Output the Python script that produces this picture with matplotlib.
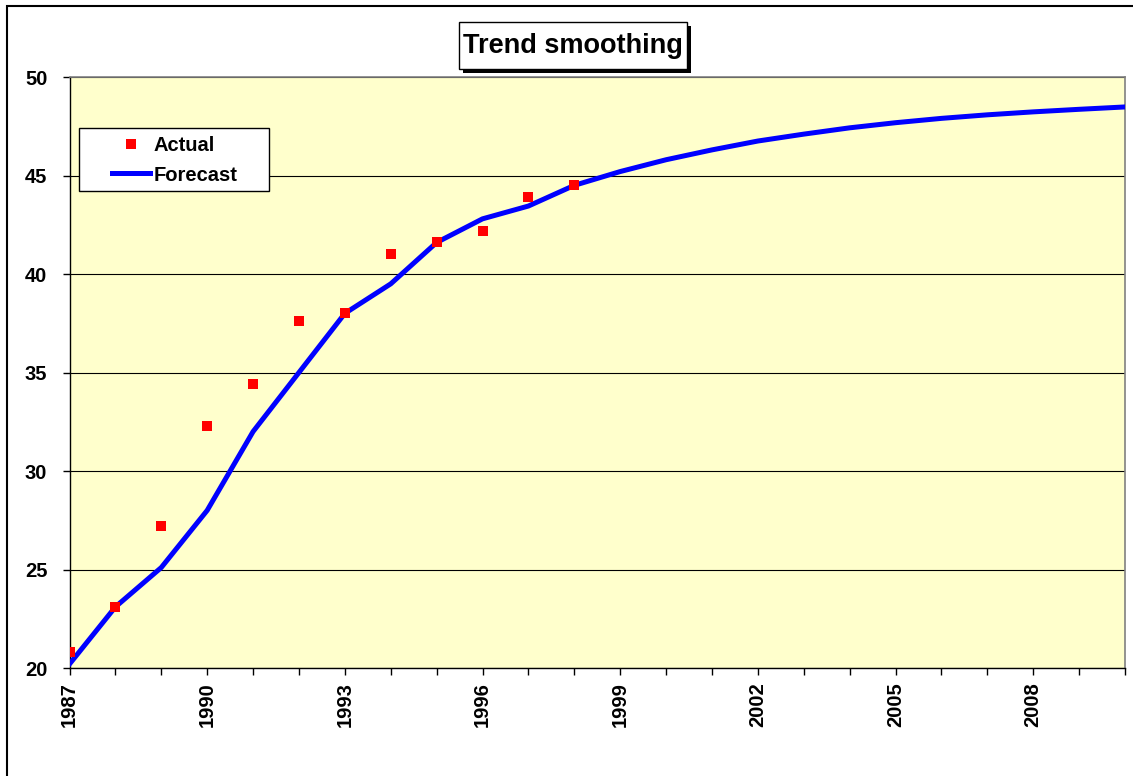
import numpy as np
import matplotlib.pyplot as plt
from matplotlib.patches import Rectangle

plt.rcParams['font.family'] = ['Liberation Sans', 'DejaVu Sans']
plt.rcParams['font.weight'] = 'bold'

# Observed values
ActualYears = [1987, 1988, 1989, 1990, 1991, 1992, 1993, 1994, 1995, 1996, 1997, 1998]
ActualValues = [20.8, 23.1, 27.2, 32.3, 34.4, 37.6, 38.0, 41.0, 41.6, 42.2, 43.9, 44.5]

# Smoothed trend incl. projection
ForecastYears = list(range(1987, 2011))
ForecastValues = [20.2, 23.1, 25.1, 28.0, 32.0, 35.0, 38.0, 39.5, 41.6, 42.8, 43.45, 44.5,
                  45.2, 45.8, 46.3, 46.75, 47.1, 47.42, 47.68, 47.9, 48.08, 48.23, 48.36, 48.48]

YTicks = [20, 25, 30, 35, 40, 45, 50]
XLabelYears = list(range(1987, 2010, 3))

W, H = 1133, 776


def px_rect(x0, y0, x1, y1, **kw):
    # rectangle given in image pixels (origin top-left)
    return Rectangle((x0 / W, 1 - y1 / H), (x1 - x0) / W, (y1 - y0) / H,
                     transform=fig.transFigure, **kw)


fig = plt.figure(figsize=(W / 100, H / 100), dpi=100)
ax = fig.add_axes([69.5 / W, 1 - 668 / H, (1125 - 69.5) / W, (668 - 77) / H])
ax.set_facecolor('#ffffcc')

ax.plot(ForecastYears, ForecastValues, color='#0000ff', lw=3.6, label='Forecast', zorder=3)
ax.plot(ActualYears, ActualValues, ls='none', marker='s', ms=6.5, color='#ff0000',
        markeredgewidth=0, label='Actual', zorder=4)

ax.set_xlim(1987, 2010)
ax.set_ylim(20, 50)
ax.set_yticks(YTicks)
ax.set_xticks(ForecastYears)
ax.set_xticklabels([str(y) if y in XLabelYears else '' for y in ForecastYears], rotation=90)
ax.tick_params(axis='both', labelsize=14.5, direction='out', length=5, width=1, colors='black')
ax.tick_params(axis='y', pad=11)
ax.tick_params(axis='x', pad=5)
ax.grid(axis='y', color='black', lw=0.8)
ax.set_axisbelow(True)

for side in ['top', 'right']:
    ax.spines[side].set_color('#808080')
    ax.spines[side].set_linewidth(1.2)
for side in ['left', 'bottom']:
    ax.spines[side].set_color('black')
    ax.spines[side].set_linewidth(1.0)

# legend: entries without frame, box drawn separately
handles, labels = ax.get_legend_handles_labels()
leg = fig.legend([handles[1], handles[0]], [labels[1], labels[0]],
                 loc='center left', bbox_to_anchor=(112 / W, 1 - 160.5 / H), fontsize=14.5,
                 frameon=False, borderpad=0, borderaxespad=0,
                 handlelength=1.9, handletextpad=0.15, labelspacing=0.5)
fig.patches.append(px_rect(79, 128, 269, 191, facecolor='white', edgecolor='black', lw=1.0, zorder=5))
leg.set_zorder(6)

# title box with shadow
fig.patches.append(px_rect(463, 26, 691, 73, facecolor='black', edgecolor='none', zorder=1))
fig.patches.append(px_rect(459, 22, 687, 69, facecolor='white', edgecolor='black', lw=1.0, zorder=2))
fig.text(573 / W, 1 - 46 / H, 'Trend smoothing', fontsize=19.5, fontweight='bold',
         ha='center', va='center', zorder=3)

# outer frame
fig.patches.append(Rectangle((7 / W, -0.1), 1.2, 1.1 - 6 / H, transform=fig.transFigure,
                             facecolor='none', edgecolor='black', lw=1.5))

fig.savefig('out.png', dpi=100)
